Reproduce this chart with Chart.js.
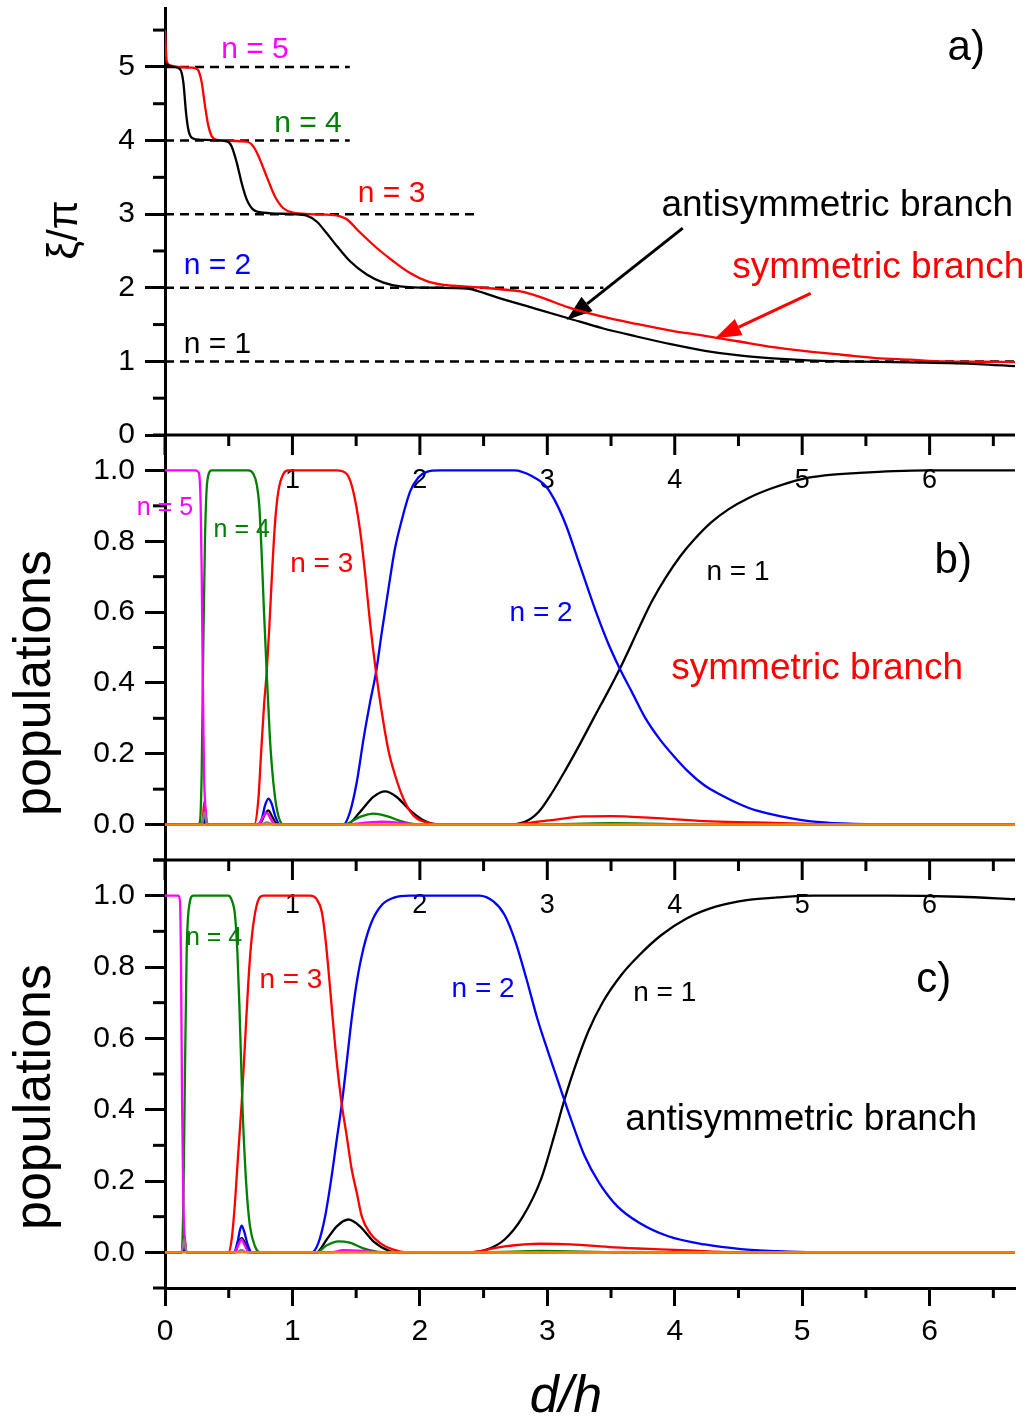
<!DOCTYPE html>
<html>
<head>
<meta charset="utf-8">
<script src="https://cdn.jsdelivr.net/npm/chart.js@4.4.0/dist/chart.umd.min.js"></script>
<style>
  body { margin: 0; background: #fff; }
  #wrap { position: relative; width: 1034px; height: 1418px; }
  canvas { position: absolute; left: 0; }
</style>
</head>
<body>
<div id="wrap">
  <canvas id="ca" width="1034" height="460" style="top:0"></canvas>
  <canvas id="cb" width="1034" height="440" style="top:425px"></canvas>
  <canvas id="cc" width="1034" height="568" style="top:850px"></canvas>
</div>
<script>
// d/h axis shared by all three panels
const xTicks = [0, 1, 2, 3, 4, 5, 6];
const xMinor = [0.5, 1.5, 2.5, 3.5, 4.5, 5.5, 6.5];
const xMax = 6.67;

// a) xi/pi
const xiTicks = [0, 1, 2, 3, 4, 5];
const xiMinor = [0.5, 1.5, 2.5, 3.5, 4.5, 5.5];
const levels = [1, 2, 3, 4, 5];
const levelEnds = [6.67, 3.44, 2.47, 1.45, 1.45];

const symXi = [[0,5.5],[0.005,5.3],[0.013,5.08],[0.04,5.02],[0.1,5.0],[0.2,4.99],[0.24,4.98],[0.262,4.95],[0.288,4.79],[0.314,4.47],[0.34,4.2],[0.366,4.06],[0.406,4.01],[0.484,4.0],[0.6,3.99],[0.654,3.98],[0.693,3.92],[0.733,3.79],[0.798,3.51],[0.863,3.24],[0.929,3.08],[1.007,3.02],[1.138,3.0],[1.3,2.99],[1.374,2.97],[1.426,2.93],[1.531,2.75],[1.662,2.54],[1.792,2.36],[1.923,2.2],[2.054,2.09],[2.185,2.04],[2.342,2.02],[2.5,2.0],[2.63,1.98],[2.79,1.95],[2.951,1.87],[3.165,1.734],[3.433,1.608],[3.701,1.509],[3.969,1.419],[4.237,1.347],[4.505,1.27],[4.773,1.194],[5.041,1.135],[5.309,1.09],[5.577,1.045],[5.844,1.023],[6.112,1.0],[6.4,0.995],[6.67,0.99]];
const antiXi = [[0,5.04],[0.065,5.0],[0.118,4.97],[0.144,4.79],[0.165,4.38],[0.183,4.15],[0.209,4.04],[0.275,4.01],[0.484,3.99],[0.523,3.92],[0.563,3.7],[0.602,3.42],[0.641,3.2],[0.693,3.06],[0.772,3.02],[1.007,3.0],[1.112,2.98],[1.19,2.9],[1.269,2.74],[1.347,2.57],[1.452,2.36],[1.583,2.18],[1.714,2.07],[1.844,2.02],[2.106,2.0],[2.368,1.99],[2.5,1.93],[2.63,1.856],[2.898,1.721],[3.165,1.586],[3.433,1.45],[3.701,1.338],[3.969,1.234],[4.237,1.144],[4.505,1.081],[4.773,1.041],[5.041,1.014],[5.309,1.0],[5.844,0.986],[6.38,0.964],[6.67,0.935]];

// b), c) populations
const popTicks = [0, 0.2, 0.4, 0.6, 0.8, 1.0];
const popMinor = [-0.1, 0.1, 0.3, 0.5, 0.7, 0.9, 1.1];

// symmetric branch
const symN5 = [[0,1],[0.24,1],[0.262,0.995],[0.27,0.985],[0.28,0.9],[0.288,0.71],[0.296,0.43],[0.306,0.15],[0.322,0.03],[0.34,0],[0.73,0],[0.775,0.025],[0.798,0.034],[0.824,0.02],[0.86,0],[1.4,0],[1.6,0.006],[1.7,0.008],[1.85,0.005],[2.0,0],[6.67,0]];
const symN4 = [[0,0],[0.26,0],[0.275,0.01],[0.288,0.15],[0.301,0.52],[0.314,0.81],[0.332,0.97],[0.366,1.0],[0.654,1.0],[0.693,0.99],[0.72,0.96],[0.74,0.9],[0.759,0.76],[0.777,0.6],[0.798,0.43],[0.824,0.24],[0.85,0.12],[0.882,0.036],[0.929,0],[1.4,0],[1.531,0.022],[1.635,0.031],[1.74,0.024],[1.871,0.0075],[2.0,0],[2.9,0],[3.5,0.004],[4.3,0],[6.67,0]];
const symN3 = [[0,0],[0.28,0],[0.295,0.01],[0.31,0.066],[0.32,0.02],[0.335,0],[0.7,0],[0.733,0.073],[0.753,0.195],[0.777,0.336],[0.798,0.43],[0.819,0.56],[0.84,0.71],[0.863,0.85],[0.889,0.94],[0.929,0.99],[0.968,1.0],[1.347,1.0],[1.426,0.99],[1.478,0.94],[1.531,0.83],[1.57,0.71],[1.609,0.57],[1.656,0.43],[1.7,0.32],[1.753,0.21],[1.805,0.14],[1.871,0.073],[1.949,0.026],[2.054,0.006],[2.185,0],[2.689,0],[3.014,0.012],[3.284,0.023],[3.501,0.024],[3.826,0.019],[4.232,0.01],[4.638,0.006],[5.044,0.002],[5.449,0],[6.67,0]];
const symN2 = [[0,0],[0.29,0],[0.31,0.017],[0.33,0],[0.72,0],[0.76,0.017],[0.785,0.054],[0.811,0.073],[0.837,0.059],[0.863,0.026],[0.903,0],[1.4,0],[1.452,0.036],[1.505,0.12],[1.557,0.24],[1.609,0.345],[1.656,0.43],[1.7,0.54],[1.753,0.665],[1.805,0.78],[1.858,0.86],[1.923,0.94],[1.988,0.98],[2.054,0.996],[2.158,1.0],[2.743,1.0],[2.878,0.984],[2.987,0.956],[3.068,0.909],[3.149,0.843],[3.23,0.759],[3.311,0.674],[3.393,0.59],[3.474,0.515],[3.569,0.44],[3.664,0.374],[3.772,0.299],[3.88,0.242],[3.988,0.195],[4.096,0.153],[4.232,0.111],[4.367,0.083],[4.502,0.059],[4.638,0.04],[4.854,0.022],[5.071,0.009],[5.314,0.003],[5.72,0],[6.67,0]];
const symN1 = [[0,0],[0.295,0],[0.31,0.01],[0.325,0],[0.74,0],[0.785,0.03],[0.811,0.04],[0.837,0.025],[0.87,0.005],[0.9,0],[1.426,0],[1.531,0.036],[1.635,0.078],[1.727,0.094],[1.818,0.078],[1.923,0.04],[2.028,0.012],[2.132,0],[2.689,0],[2.824,0.0075],[2.933,0.036],[3.041,0.092],[3.149,0.158],[3.257,0.228],[3.366,0.302],[3.474,0.374],[3.569,0.44],[3.664,0.512],[3.745,0.575],[3.826,0.634],[3.934,0.7],[4.042,0.757],[4.151,0.804],[4.286,0.853],[4.421,0.89],[4.584,0.923],[4.773,0.951],[4.99,0.975],[5.178,0.986],[5.449,0.993],[5.72,0.998],[5.99,1.0],[6.67,1.0]];
const symGray = [[0,0],[0.29,0],[0.31,0.036],[0.33,0],[0.75,0],[0.8,0.006],[0.85,0],[6.67,0]];
const symOrange = [[0,0],[2,0],[4,0],[6.67,0]];

// antisymmetric branch
const antiN5 = [[0,1],[0.105,1],[0.118,0.983],[0.126,0.795],[0.134,0.42],[0.144,0.139],[0.157,0.026],[0.175,0],[0.54,0],[0.575,0.02],[0.6,0.036],[0.625,0.02],[0.66,0],[1.3,0],[1.4,0.006],[1.55,0.004],[1.7,0],[6.67,0]];
const antiN4 = [[0,0],[0.131,0],[0.144,0.139],[0.157,0.514],[0.17,0.842],[0.191,0.974],[0.222,1.0],[0.497,1.0],[0.523,0.988],[0.549,0.946],[0.568,0.842],[0.583,0.7],[0.596,0.55],[0.609,0.4],[0.628,0.25],[0.646,0.148],[0.667,0.073],[0.706,0.017],[0.746,0],[1.19,0],[1.27,0.02],[1.36,0.031],[1.45,0.027],[1.55,0.012],[1.66,0.002],[1.75,0],[2.5,0],[2.95,0.004],[3.6,0],[6.67,0]];
const antiN3 = [[0,0],[0.13,0],[0.15,0.05],[0.17,0],[0.497,0],[0.523,0.036],[0.549,0.139],[0.575,0.28],[0.602,0.42],[0.628,0.589],[0.654,0.758],[0.68,0.88],[0.72,0.974],[0.772,1.0],[1.138,1.0],[1.19,0.99],[1.23,0.955],[1.256,0.889],[1.282,0.795],[1.316,0.655],[1.348,0.533],[1.387,0.415],[1.426,0.326],[1.465,0.233],[1.505,0.167],[1.544,0.101],[1.609,0.054],[1.688,0.026],[1.792,0.0075],[1.897,0],[2.38,0],[2.665,0.017],[2.951,0.024],[3.179,0.0225],[3.522,0.014],[3.949,0.0075],[4.235,0.003],[4.52,0],[6.67,0]];
const antiN2 = [[0,0],[0.13,0],[0.15,0.012],[0.17,0],[0.54,0],[0.57,0.03],[0.59,0.065],[0.602,0.075],[0.62,0.06],[0.65,0.02],[0.68,0],[1.151,0],[1.203,0.026],[1.256,0.1],[1.308,0.214],[1.348,0.317],[1.387,0.415],[1.426,0.533],[1.465,0.655],[1.505,0.758],[1.557,0.852],[1.622,0.927],[1.701,0.974],[1.792,0.994],[1.923,1.0],[2.465,1.0],[2.579,0.983],[2.665,0.946],[2.751,0.87],[2.836,0.767],[2.922,0.655],[3.008,0.56],[3.093,0.47],[3.179,0.38],[3.293,0.27],[3.407,0.195],[3.55,0.129],[3.721,0.083],[3.949,0.045],[4.235,0.022],[4.52,0.009],[4.806,0.003],[5.091,0],[6.67,0]];
const antiN1 = [[0,0],[0.13,0],[0.15,0.008],[0.17,0],[0.55,0],[0.58,0.03],[0.602,0.04],[0.63,0.025],[0.66,0],[1.19,0],[1.269,0.036],[1.348,0.073],[1.439,0.092],[1.53,0.073],[1.635,0.031],[1.766,0.003],[1.818,0],[2.38,0],[2.523,0.0075],[2.665,0.036],[2.808,0.1],[2.951,0.205],[3.065,0.34],[3.128,0.42],[3.208,0.51],[3.322,0.62],[3.436,0.702],[3.579,0.777],[3.721,0.833],[3.893,0.889],[4.093,0.936],[4.321,0.969],[4.578,0.988],[4.806,0.995],[5.091,1.0],[5.662,1.0],[6.233,0.997],[6.67,0.99]];
const antiGray = [[0,0],[0.13,0],[0.15,0.036],[0.17,0],[0.56,0],[0.6,0.007],[0.64,0],[6.67,0]];
const antiOrange = [[0,0],[2,0],[4,0],[6.67,0]];

// arrows pointing at the two branches in a)
const arrows = [
  {from: [4.063, 2.81], to: [3.152, 1.5625], color: '#000'},
  {from: [5.067, 1.925], to: [4.317, 1.314], color: '#ff0000'}
];

const FONT = "'Liberation Sans', Arial, sans-serif";
const C = {black: '#000000', red: '#ff0000', blue: '#0000ff', green: '#008000', magenta: '#ff00ff', gray: '#808080', orange: '#ff8000'};
Chart.defaults.font.family = FONT;
Chart.defaults.color = '#000';

const pts = arr => arr.map(([x, y]) => ({x, y}));

function curve(data, color, extra) {
  return Object.assign({
    data: pts(data), borderColor: color, borderWidth: 2.3, pointRadius: 0,
    cubicInterpolationMode: 'monotone', fill: false
  }, extra || {});
}

function seg(ctx, x1, y1, x2, y2) {
  ctx.beginPath();
  ctx.moveTo(x1, y1);
  ctx.lineTo(x2, y2);
  ctx.stroke();
}

function arrowHead(ctx, x1, y1, x2, y2, color) {
  const ang = Math.atan2(y2 - y1, x2 - x1);
  const len = 26, half = 9;
  const bx = x2 - len * Math.cos(ang), by = y2 - len * Math.sin(ang);
  ctx.strokeStyle = color;
  ctx.fillStyle = color;
  ctx.lineWidth = 3;
  seg(ctx, x1, y1, bx, by);
  ctx.beginPath();
  ctx.moveTo(x2, y2);
  ctx.lineTo(bx + half * Math.sin(ang), by - half * Math.cos(ang));
  ctx.lineTo(bx - half * Math.sin(ang), by + half * Math.cos(ang));
  ctx.closePath();
  ctx.fill();
}

// minor ticks, inner top axis, panel text and arrows
function extras(o) {
  return {
    id: 'extras',
    beforeDatasetsDraw(chart) {
      const {ctx, chartArea: a, scales: {x, y}} = chart;
      ctx.save();
      ctx.strokeStyle = '#000';
      ctx.lineWidth = 3;
      (o.yMinor || []).forEach(v => {
        const p = y.getPixelForValue(v);
        seg(ctx, a.left - 12, p, a.left, p);
      });
      if (o.topAxis) {
        seg(ctx, a.left, a.top, a.right, a.top);
        xTicks.forEach(v => { const p = x.getPixelForValue(v); seg(ctx, p, a.top, p, a.top + 20); });
        xMinor.forEach(v => { const p = x.getPixelForValue(v); seg(ctx, p, a.top, p, a.top + 11); });
        ctx.fillStyle = '#000';
        ctx.font = '27px ' + FONT;
        ctx.textAlign = 'center';
        ctx.textBaseline = 'alphabetic';
        xTicks.filter(v => v > 0).forEach(v => ctx.fillText(String(v), x.getPixelForValue(v), a.top + 53));
      }
      if (o.bottomMinor) {
        xMinor.forEach(v => { const p = x.getPixelForValue(v); seg(ctx, p, a.bottom, p, a.bottom + 10); });
      }
      ctx.textAlign = 'center';
      ctx.textBaseline = 'alphabetic';
      (o.notes || []).forEach(n => {
        ctx.font = n.size + 'px ' + FONT;
        ctx.fillStyle = n.color;
        ctx.fillText(n.text, x.getPixelForValue(n.x), y.getPixelForValue(n.y));
      });
      (o.titles || []).forEach(t => {
        ctx.save();
        ctx.translate(t.px, t.py);
        ctx.rotate(t.rot || 0);
        ctx.font = (t.italic ? 'italic ' : '') + t.size + 'px ' + FONT;
        ctx.fillStyle = '#000';
        ctx.textBaseline = t.rot ? 'middle' : 'alphabetic';
        ctx.fillText(t.text, 0, 0);
        ctx.restore();
      });
      (o.arrows || []).forEach(ar => arrowHead(ctx,
        x.getPixelForValue(ar.from[0]), y.getPixelForValue(ar.from[1]),
        x.getPixelForValue(ar.to[0]), y.getPixelForValue(ar.to[1]), ar.color));
      ctx.restore();
    }
  };
}

// the plot boxes are placed by the layout padding alone, so tick-label overhang is dropped
function yAxis(min, max, ticks, fmt) {
  return {
    min, max,
    afterBuildTicks: s => { s.ticks = ticks.map(v => ({value: v})); },
    afterFit: s => { s.width = 165; s.paddingTop = 0; s.paddingBottom = 0; },
    border: {color: '#000', width: 3},
    grid: {drawOnChartArea: false, tickLength: 20, tickWidth: 3, tickColor: '#000', color: '#000'},
    ticks: {color: '#000', font: {size: 30}, padding: 10, callback: fmt}
  };
}

const hiddenX = {type: 'linear', min: 0, max: xMax, display: false};

function baseOptions(padding, scales) {
  return {
    responsive: false, animation: false, devicePixelRatio: 1, events: [],
    layout: {padding},
    plugins: {legend: {display: false}, tooltip: {enabled: false}},
    scales
  };
}

// a) xi/pi versus d/h
new Chart(document.getElementById('ca'), {
  type: 'line',
  data: {
    datasets: [
      curve(antiXi, C.black),
      curve(symXi, C.red),
      ...levels.map((lv, i) => curve([[0, lv], [levelEnds[i], lv]], C.black, {borderWidth: 2.5, borderDash: [9, 6], cubicInterpolationMode: 'default'}))
    ]
  },
  options: baseOptions({top: 8, right: 19, bottom: 25, left: 0}, {
    x: hiddenX,
    y: yAxis(0, 5.8, xiTicks, v => String(v))
  }),
  plugins: [extras({
    yMinor: xiMinor,
    arrows,
    notes: [
      {text: 'n = 5', x: 0.706, y: 5.118, color: C.magenta, size: 30},
      {text: 'n = 4', x: 1.122, y: 4.12, color: C.green, size: 30},
      {text: 'n = 3', x: 1.778, y: 3.166, color: C.red, size: 30},
      {text: 'n = 2', x: 0.412, y: 2.188, color: C.blue, size: 30},
      {text: 'n = 1', x: 0.412, y: 1.114, color: C.black, size: 30},
      {text: 'a)', x: 6.287, y: 5.095, color: C.black, size: 42},
      {text: 'antisymmetric branch', x: 5.275, y: 2.98, color: C.black, size: 37},
      {text: 'symmetric branch', x: 5.597, y: 2.129, color: C.red, size: 37}
    ],
    titles: [{text: 'ξ/π', px: 65, py: 230, rot: -Math.PI / 2, size: 42}]
  })]
});

// b) populations, symmetric branch
new Chart(document.getElementById('cb'), {
  type: 'line',
  data: {
    datasets: [
      curve(symOrange, C.orange),
      curve(symGray, C.gray),
      curve(symN5, C.magenta),
      curve(symN4, C.green),
      curve(symN3, C.red),
      curve(symN2, C.blue),
      curve(symN1, C.black)
    ]
  },
  options: baseOptions({top: 10, right: 19, bottom: 5, left: 0}, {
    x: hiddenX,
    y: yAxis(-0.1, 1.1, popTicks, v => v.toFixed(1))
  }),
  plugins: [extras({
    yMinor: popMinor,
    topAxis: true,
    notes: [
      {text: 'n = 5', x: 0.0, y: 0.874, color: C.magenta, size: 25},
      {text: 'n = 4', x: 0.602, y: 0.813, color: C.green, size: 25},
      {text: 'n = 3', x: 1.23, y: 0.714, color: C.red, size: 28},
      {text: 'n = 2', x: 2.951, y: 0.574, color: C.blue, size: 28},
      {text: 'n = 1', x: 4.496, y: 0.691, color: C.black, size: 28},
      {text: 'b)', x: 6.185, y: 0.71, color: C.black, size: 42},
      {text: 'symmetric branch', x: 5.118, y: 0.412, color: C.red, size: 37}
    ],
    titles: [{text: 'populations', px: 36, py: 258, rot: -Math.PI / 2, size: 52}]
  })]
});

// c) populations, antisymmetric branch, with the d/h axis
new Chart(document.getElementById('cc'), {
  type: 'line',
  data: {
    datasets: [
      curve(antiOrange, C.orange),
      curve(antiGray, C.gray),
      curve(antiN5, C.magenta),
      curve(antiN4, C.green),
      curve(antiN3, C.red),
      curve(antiN2, C.blue),
      curve(antiN1, C.black)
    ]
  },
  options: baseOptions({top: 10, right: 19, bottom: 0, left: 0}, {
    x: {
      type: 'linear', min: 0, max: xMax,
      afterBuildTicks: s => { s.ticks = xTicks.map(v => ({value: v})); },
      afterFit: s => { s.height = 130; s.paddingLeft = 0; s.paddingRight = 0; },
      border: {color: '#000', width: 3},
      grid: {drawOnChartArea: false, tickLength: 18, tickWidth: 3, tickColor: '#000', color: '#000'},
      ticks: {color: '#000', font: {size: 30}, padding: 8, maxRotation: 0, callback: v => String(v)}
    },
    y: yAxis(-0.1, 1.1, popTicks, v => v.toFixed(1))
  }),
  plugins: [extras({
    yMinor: popMinor,
    topAxis: true,
    bottomMinor: true,
    notes: [
      {text: 'n = 4', x: 0.385, y: 0.862, color: C.green, size: 25},
      {text: 'n = 3', x: 0.988, y: 0.741, color: C.red, size: 28},
      {text: 'n = 2', x: 2.496, y: 0.717, color: C.blue, size: 28},
      {text: 'n = 1', x: 3.921, y: 0.706, color: C.black, size: 28},
      {text: 'c)', x: 6.033, y: 0.731, color: C.black, size: 42},
      {text: 'antisymmetric branch', x: 4.992, y: 0.343, color: C.black, size: 37}
    ],
    titles: [
      {text: 'populations', px: 36, py: 247, rot: -Math.PI / 2, size: 52},
      {text: 'd/h', px: 566, py: 562, size: 52, italic: true}
    ]
  })]
});
</script>
</body>
</html>
